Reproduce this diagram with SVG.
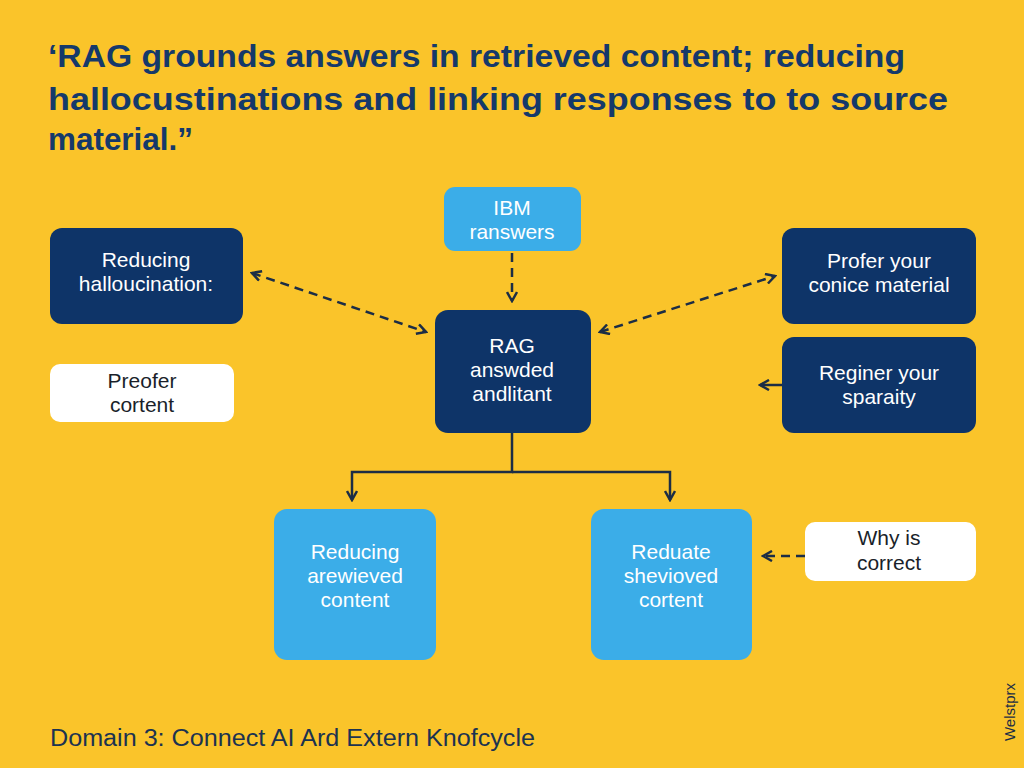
<svg xmlns="http://www.w3.org/2000/svg" width="1024" height="768" viewBox="0 0 1024 768">
<defs>
<style>
.title{font-family:"Liberation Sans",Arial,sans-serif;font-size:32px;font-weight:bold;fill:#15396A;}
.navy{fill:#0E3468;}
.light{fill:#3BADE8;}
.white{fill:#FFFFFF;}
.tw{font-family:"Liberation Sans",Arial,sans-serif;font-size:21px;fill:#FFFFFF;text-anchor:middle;}
.td{font-family:"Liberation Sans",Arial,sans-serif;font-size:21px;fill:#1A1F2A;text-anchor:middle;}
.conn{stroke:#1C2D45;stroke-width:2.5;fill:none;}
.dash{stroke-dasharray:9 6;}
.foot{font-family:"Liberation Sans",Arial,sans-serif;font-size:23px;fill:#1C3350;}
</style>
<marker id="arr" viewBox="0 0 12 12" refX="10" refY="6" markerWidth="12" markerHeight="12" markerUnits="userSpaceOnUse" orient="auto-start-reverse">
<path d="M1,1 L10,6 L1,11" fill="none" stroke="#1C2D45" stroke-width="2.5"/>
</marker>
</defs>
<rect width="1024" height="768" fill="#FAC42A"/>
<g id="title">
<text class="title" x="48" y="67" textLength="857" lengthAdjust="spacingAndGlyphs">‘RAG grounds answers in retrieved content; reducing</text>
<text class="title" x="48" y="110" textLength="900" lengthAdjust="spacingAndGlyphs">hallocustinations and linking responses to to source</text>
<text class="title" x="48" y="150" textLength="145" lengthAdjust="spacingAndGlyphs">material.”</text>
</g>
<g id="connectors">
<line class="conn dash" x1="512" y1="253" x2="512" y2="301" marker-end="url(#arr)"/>
<line class="conn dash" x1="252" y1="273" x2="426" y2="332" marker-start="url(#arr)" marker-end="url(#arr)"/>
<line class="conn dash" x1="600" y1="332" x2="775" y2="276" marker-start="url(#arr)" marker-end="url(#arr)"/>
<line class="conn" x1="782" y1="385" x2="760" y2="385" marker-end="url(#arr)"/>
<polyline class="conn" points="512,432 512,472 352,472 352,500" marker-end="url(#arr)"/>
<polyline class="conn" points="512,472 670,472 670,500" marker-end="url(#arr)"/>
<line class="conn dash" x1="805" y1="556" x2="763" y2="556" marker-end="url(#arr)"/>
</g>
<g id="ibm">
<rect class="light" x="444" y="187" width="137" height="64" rx="11"/>
<text class="tw" x="512" y="215">IBM</text>
<text class="tw" x="512" y="239">ranswers</text>
</g>
<g id="reducing-hallucination">
<rect class="navy" x="50" y="228" width="193" height="96" rx="12"/>
<text class="tw" x="146" y="267">Reducing</text>
<text class="tw" x="146" y="291">halloucination:</text>
</g>
<g id="preofer">
<rect class="white" x="50" y="364" width="184" height="58" rx="10"/>
<text class="td" x="142" y="388">Preofer</text>
<text class="td" x="142" y="412">cortent</text>
</g>
<g id="rag">
<rect class="navy" x="435" y="310" width="156" height="123" rx="13"/>
<text class="tw" x="512" y="353">RAG</text>
<text class="tw" x="512" y="377">answded</text>
<text class="tw" x="512" y="401">andlitant</text>
</g>
<g id="profer">
<rect class="navy" x="782" y="228" width="194" height="96" rx="12"/>
<text class="tw" x="879" y="268">Profer your</text>
<text class="tw" x="879" y="292">conice material</text>
</g>
<g id="reginer">
<rect class="navy" x="782" y="337" width="194" height="96" rx="12"/>
<text class="tw" x="879" y="380">Reginer your</text>
<text class="tw" x="879" y="404">sparaity</text>
</g>
<g id="reducing-arewieved">
<rect class="light" x="274" y="509" width="162" height="151" rx="13"/>
<text class="tw" x="355" y="559">Reducing</text>
<text class="tw" x="355" y="583">arewieved</text>
<text class="tw" x="355" y="607">content</text>
</g>
<g id="reduate">
<rect class="light" x="591" y="509" width="161" height="151" rx="13"/>
<text class="tw" x="671" y="559">Reduate</text>
<text class="tw" x="671" y="583">shevioved</text>
<text class="tw" x="671" y="607">cortent</text>
</g>
<g id="why">
<rect class="white" x="805" y="522" width="171" height="59" rx="10"/>
<text class="td" x="889" y="545">Why is</text>
<text class="td" x="889" y="570">correct</text>
</g>
<g id="footer">
<text class="foot" x="50" y="746" textLength="485" lengthAdjust="spacingAndGlyphs">Domain 3: Connect AI Ard Extern Knofcycle</text>
<text font-family="'Liberation Sans',Arial,sans-serif" font-size="15" fill="#1C2D45" text-anchor="middle" transform="translate(1015,712) rotate(-90)">Welstprx</text>
</g>
</svg>
